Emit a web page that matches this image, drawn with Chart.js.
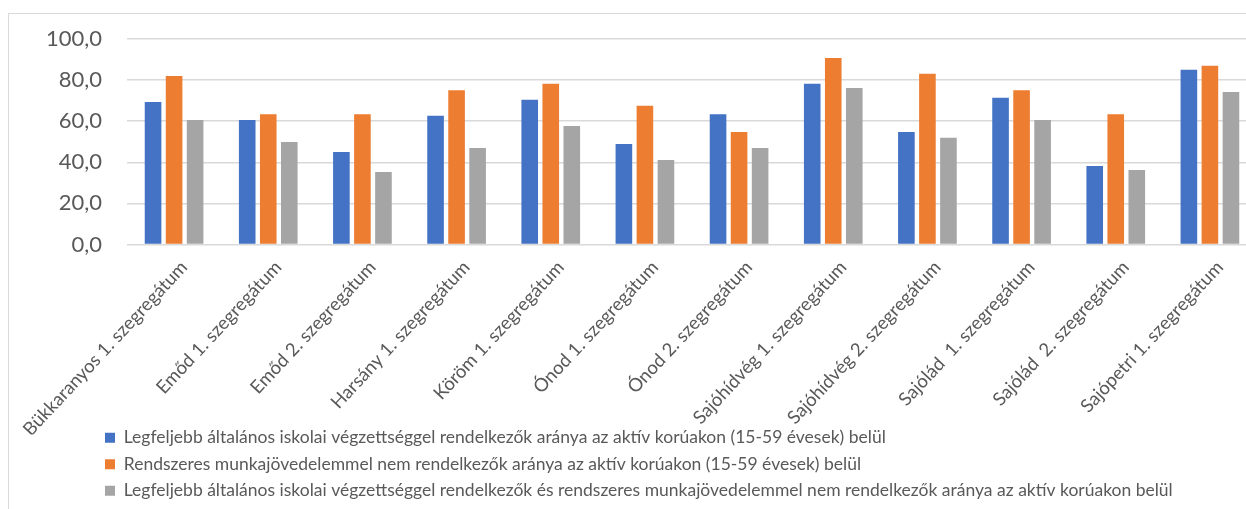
<!DOCTYPE html>
<html>
<head>
<meta charset="utf-8">
<script src="https://cdn.jsdelivr.net/npm/chart.js@4/dist/chart.umd.min.js"></script>
<style>
  html, body { margin:0; padding:0; background:#fff; overflow:hidden; width:1246px; height:509px; }
  #title { position:absolute; left:0; width:1246px; top:-25px; text-align:center;
           font-family:Lato, sans-serif; font-size:21px; line-height:21px; color:#000; white-space:nowrap; }
  #frame { position:absolute; left:8px; top:13px; width:1300px; height:530px; border:1px solid #d9d9d9; }
  #chart { position:absolute; left:0; top:14px; }
</style>
</head>
<body>
<div id="title">Szegregátumok alapvető társadalmi mutatói (KSH 2011. évi népszámlálás adatai, saját szerkesztés)</div>
<div id="frame"></div>
<canvas id="chart" width="1257" height="510"></canvas>
<script>
// categories
const labels = [
  'Bükkaranyos 1. szegregátum', 'Emőd 1. szegregátum', 'Emőd 2. szegregátum',
  'Harsány 1. szegregátum', 'Köröm 1. szegregátum', 'Ónod 1. szegregátum',
  'Ónod 2. szegregátum', 'Sajóhídvég 1. szegregátum', 'Sajóhídvég 2. szegregátum',
  'Sajólád  1. szegregátum', 'Sajólád  2. szegregátum', 'Sajópetri 1. szegregátum'
];

// series names
const seriesNames = [
  'Legfeljebb általános iskolai végzettséggel rendelkezők aránya az aktív korúakon (15-59 évesek) belül',
  'Rendszeres munkajövedelemmel nem rendelkezők aránya az aktív korúakon (15-59 évesek) belül',
  'Legfeljebb általános iskolai végzettséggel rendelkezők és rendszeres munkajövedelemmel nem rendelkezők aránya az aktív korúakon belül'
];

// values
const iskolai   = [69.4, 60.6, 45.0, 62.6, 70.4, 48.9, 63.4, 78.2, 54.8, 71.4, 38.2, 85.0];
const munka     = [82.0, 63.4, 63.4, 75.1, 78.2, 67.5, 54.8, 90.7, 83.1, 75.1, 63.4, 87.0];
const mindketto = [60.6, 49.9, 35.3, 47.0, 57.7, 41.1, 47.0, 76.1, 51.9, 60.6, 36.2, 74.2];

const yTicks = [0, 20, 40, 60, 80, 100];

const colors = ['#4472C4', '#ED7D31', '#A5A5A5'];
const FONT = 'Lato, sans-serif';

// excel lets the legend sit a bit right and overlap the label area
const legendShift = {
  id: 'legendShift',
  afterLayout(chart) {
    const h = chart.legend.height;
    chart.legend.left = 96;
    chart.legend.top = 406;
    chart.legend.bottom = 406 + h;
  }
};

const ds = [iskolai, munka, mindketto].map((v, i) => ({
  label: seriesNames[i],
  data: v,
  backgroundColor: colors[i],
  borderWidth: 0,
  categoryPercentage: 0.67,
  barPercentage: 0.79
}));

new Chart(document.getElementById('chart'), {
  type: 'bar',
  data: { labels: labels, datasets: ds },
  plugins: [legendShift],
  options: {
    responsive: false,
    animation: false,
    layout: { padding: { top: 25, right: 0, bottom: 0, left: 0 } },
    scales: {
      x: {
        grid: { display: false, drawTicks: false },
        border: { display: false },
        ticks: {
          maxRotation: 47, minRotation: 47,
          autoSkip: false,
          padding: 12,
          labelOffset: 10,
          color: '#595959',
          font: { family: FONT, size: 18.5 }
        },
        afterFit(scale) {
          scale.height = 190;
          // labels may run off to the left, excel lets them
          scale.paddingLeft = 0;
          scale.paddingRight = 0;
        }
      },
      y: {
        min: 0, max: 100,
        afterBuildTicks(scale) { scale.ticks = yTicks.map(v => ({ value: v })); },
        grid: { color: '#d9d9d9', lineWidth: 1.5, drawTicks: false },
        border: { display: false },
        ticks: {
          padding: 25,
          color: '#595959',
          font: { family: FONT, size: 22 },
          callback: v => v.toFixed(1).replace('.', ',')
        },
        afterFit(scale) {
          scale.width = 127;
          scale.paddingTop = 0;
          scale.paddingBottom = 0;
        }
      }
    },
    plugins: {
      tooltip: { enabled: false },
      title: { display: false },
      legend: {
        position: 'bottom',
        align: 'start',
        labels: {
          boxWidth: 10,
          boxHeight: 10,
          padding: 9,
          color: '#595959',
          font: { family: FONT, size: 17.5 }
        }
      }
    }
  }
});
</script>
</body>
</html>
